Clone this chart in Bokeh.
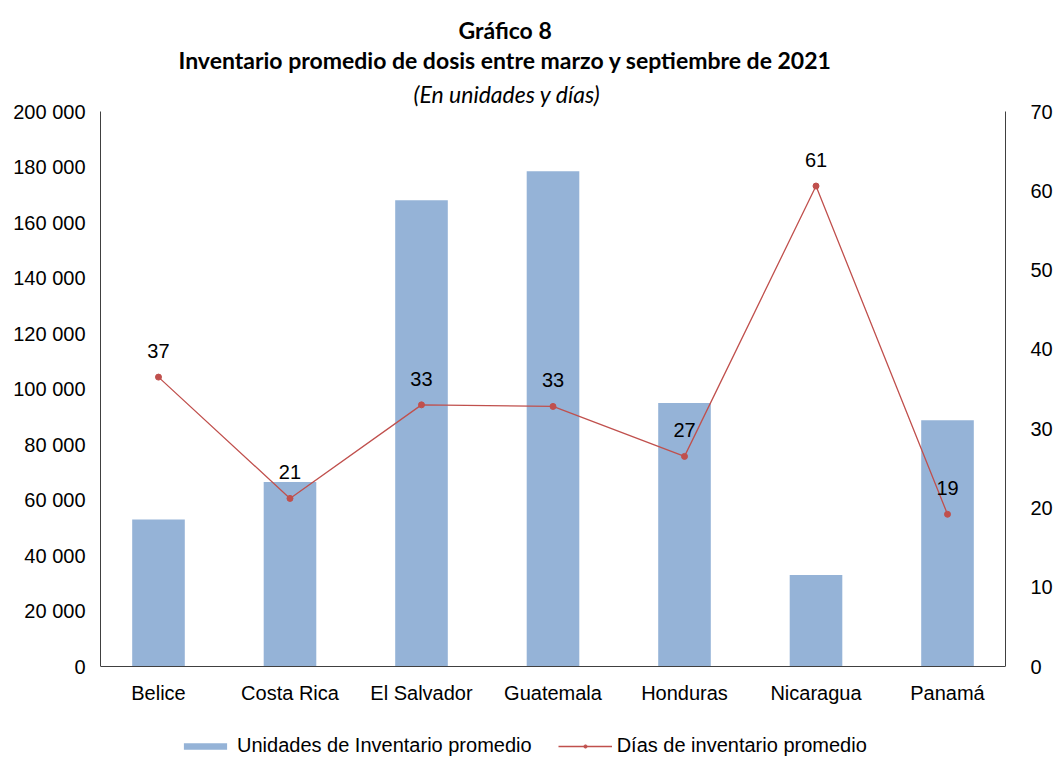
from bokeh.plotting import figure
from bokeh.models import (FactorRange, Range1d, LinearAxis, CategoricalAxis, FixedTicker,
                          ColumnDataSource, LabelSet, Title, Legend, LegendItem)
from bokeh.core.properties import value
from bokeh.embed import file_html
from bokeh.resources import INLINE

countries = ["Belice", "Costa Rica", "El Salvador", "Guatemala", "Honduras", "Nicaragua", "Panamá"]
unidades = [53000, 66500, 168000, 178500, 95000, 33000, 88700]
dias = [36.5, 21.2, 33.0, 32.8, 26.5, 60.6, 19.2]
dias_labels = ["37", "21", "33", "33", "27", "61", "19"]
left_ticks = [0, 20000, 40000, 60000, 80000, 100000, 120000, 140000, 160000, 180000, 200000]
left_tick_labels = ["0", "20 000", "40 000", "60 000", "80 000", "100 000", "120 000",
                    "140 000", "160 000", "180 000", "200 000"]
right_ticks = [0, 10, 20, 30, 40, 50, 60, 70]
title1 = "Gráfico 8"
title2 = "Inventario promedio de dosis entre marzo y septiembre de 2021"
title3 = "(En unidades y días)"
legend_bar = "Unidades de Inventario promedio"
legend_line = "Días de inventario promedio"

FONT = "Liberation Sans"
TFONT = "Lato"

# layout (pixels): plotting area 555 px tall, 91 px reserved below it for labels and legend
PLOT_H = 555
BELOW_H = 91
U_MAX = 200000
D_MAX = 70
u_start = -U_MAX * BELOW_H / PLOT_H
d_start = -D_MAX * BELOW_H / PLOT_H

src = ColumnDataSource(dict(x=countries, u=unidades, d=dias, dl=dias_labels))

p = figure(frame_width=905, frame_height=PLOT_H + BELOW_H,
           x_range=FactorRange(*countries, range_padding=-0.059, range_padding_units="absolute"),
           y_range=Range1d(u_start, U_MAX), output_backend="svg", toolbar_location=None,
           min_border_left=100, min_border_right=50, min_border_top=111, min_border_bottom=0,
           title=None, x_axis_location=None)
p.extra_y_ranges = {"dias": Range1d(d_start, D_MAX)}
p.outline_line_color = None
p.grid.visible = False
p.background_fill_color = "white"

bars = p.vbar(x="x", top="u", width=0.4, source=src, fill_color="#95B3D7", line_color=None)
line = p.line(x="x", y="d", source=src, y_range_name="dias", line_color="#C0504D", line_width=1.3)
pts = p.scatter(x="x", y="d", source=src, y_range_name="dias", size=6,
                fill_color="#C0504D", line_color="#C0504D")

labels = LabelSet(x="x", y="d", text="dl", source=src, y_range_name="dias", y_offset=26,
                  text_align="center", text_baseline="middle", text_font=value(FONT),
                  text_font_size=value("20px"), text_color="black")
p.add_layout(labels)

# x axis drawn at value 0
xa = CategoricalAxis(fixed_location=0)
xa.major_tick_line_color = None
xa.minor_tick_line_color = None
xa.major_tick_out = 0
xa.major_tick_in = 0
xa.axis_line_color = "#404040"
xa.major_label_text_font = FONT
xa.major_label_text_font_size = "20px"
xa.major_label_standoff = 15
xa.major_label_text_color = "black"
p.add_layout(xa, "below")

ya = p.yaxis[0]
ya.ticker = FixedTicker(ticks=left_ticks)
ya.bounds = (0, U_MAX)
ya.major_label_overrides = {t: l for t, l in zip(left_ticks, left_tick_labels)}
ya.major_tick_line_color = None
ya.minor_tick_line_color = None
ya.major_tick_out = 0
ya.major_tick_in = 0
ya.axis_line_color = "#404040"
ya.major_label_text_font = FONT
ya.major_label_text_font_size = "20px"
ya.major_label_standoff = 15
ya.major_label_text_color = "black"

ra = LinearAxis(y_range_name="dias", ticker=FixedTicker(ticks=right_ticks), bounds=(0, D_MAX))
ra.major_tick_line_color = None
ra.minor_tick_line_color = None
ra.major_tick_out = 0
ra.major_tick_in = 0
ra.axis_line_color = "#404040"
ra.major_label_text_font = FONT
ra.major_label_text_font_size = "20px"
ra.major_label_standoff = 25
ra.major_label_text_color = "black"
p.add_layout(ra, "right")

legend = Legend(items=[LegendItem(label=legend_bar, renderers=[bars]),
                       LegendItem(label=legend_line, renderers=[line, pts])],
                orientation="horizontal", location=(78, 0), border_line_color=None,
                background_fill_alpha=0,
                glyph_width=54, glyph_height=8, label_text_font=FONT,
                label_text_font_size="20px", spacing=26, padding=0, margin=0,
                label_standoff=5, label_text_color="black")
p.add_layout(legend)

for txt, style, off, sto in [(title3, "italic", 313, 8), (title2, "bold", 78, 0),
                             (title1, "bold", 358, 0)]:
    p.add_layout(Title(text=txt, align="left", offset=off, standoff=sto, text_font=TFONT,
                       text_font_size="23px", text_font_style=style, text_color="black"),
                 "above")

open("out.html", "w").write(file_html(p, INLINE))
